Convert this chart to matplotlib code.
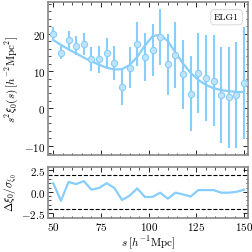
import numpy as np
import matplotlib
matplotlib.use("Agg")
import matplotlib.pyplot as plt
from matplotlib.ticker import AutoMinorLocator

plt.rcParams['font.family'] = 'serif'
plt.rcParams['font.serif'] = ['cmr10']
plt.rcParams['mathtext.fontset'] = 'cm'
plt.rcParams['axes.formatter.use_mathtext'] = True
plt.rcParams['axes.unicode_minus'] = True

s = [50, 54, 58, 62, 66, 70, 74, 78, 82, 86, 90, 94, 98, 102, 106, 110,
     114, 118, 122, 126, 130, 134, 138, 142, 146, 150]
xi = [20.0, 14.9, 18.3, 16.8, 17.2, 13.2, 13.2, 14.7, 12.1, 5.8, 10.9, 17.2,
      13.8, 15.7, 19.2, 11.8, 14.3, 9.1, 3.9, 9.5, 8.2, 7.4, 3.6, 3.0, 3.6, 6.8]
err = [1.7, 1.8, 2.3, 2.6, 3.0, 3.2, 3.6, 4.1, 4.5, 4.8, 5.4, 5.8, 6.4, 7.0,
       7.5, 8.1, 8.8, 9.3, 10.0, 10.7, 11.5, 12.2, 12.9, 13.5, 14.3, 15.0]
model = [18.3, 17.0, 15.8, 14.7, 13.6, 12.6, 11.7, 10.9, 10.4, 10.5, 11.6,
         13.8, 16.8, 19.3, 19.7, 18.0, 15.0, 12.0, 9.5, 7.6, 6.3, 5.4, 4.9,
         4.6, 4.4, 4.4]
resid = [1.0, -1.05, 1.15, 0.9, 1.25, 0.25, 0.45, 1.0, 0.45, -0.95, -0.45,
         0.4, -0.6, -0.6, -0.1, -0.8, -0.1, -0.3, -0.55, 0.2, 0.2, 0.2, -0.1,
         -0.1, 0.0, 0.25]

col = '#87CEFA'
fs = 8

fig = plt.figure(figsize=(2.53, 2.53), dpi=100)
ax1 = fig.add_axes([0.191, 0.383, 0.789, 0.604])
ax2 = fig.add_axes([0.191, 0.136, 0.789, 0.201])

ax1.errorbar(s, xi, yerr=err, fmt='o', color=col, ms=4.5, mfc='#bfe4fb',
             mec=col, mew=0.8, elinewidth=1.5, capsize=0, zorder=3)
ax1.plot(s, model, color=col, lw=1.6, zorder=2)
ax1.set_xlim(47.4, 152)
ax1.set_ylim(-12.5, 28.4)
ax1.set_yticks([-10, 0, 10, 20])
ax1.set_xticks([50, 75, 100, 125, 150])
ax1.set_xticklabels([])
ax1.set_ylabel(r'$s^2\xi_0(s)\,[h^{-2}\mathrm{Mpc}^2]$', fontsize=fs)
ax1.text(0.955, 0.93, 'ELG1', transform=ax1.transAxes, ha='right', va='top',
         fontsize=fs - 1,
         bbox=dict(boxstyle='round,pad=0.35', fc='white', ec='#dddddd', lw=0.8))

ax2.plot(s, resid, color=col, lw=1.6)
ax2.axhline(2, color='k', ls='--', lw=0.8)
ax2.axhline(-2, color='k', ls='--', lw=0.8)
ax2.set_xlim(47.4, 152)
ax2.set_ylim(-3.0, 2.92)
ax2.set_yticks([-2.5, 0.0, 2.5])
ax2.set_yticklabels(['$-2.5$', '$0.0$', '$2.5$'])
ax2.set_xticks([50, 75, 100, 125, 150])
ax2.set_xlabel(r'$s\;[h^{-1}\mathrm{Mpc}]$', fontsize=fs, labelpad=1)
ax2.set_ylabel(r'$\Delta\xi_0/\sigma_{\xi_0}$', fontsize=fs)

for ax in (ax1, ax2):
    ax.xaxis.set_minor_locator(AutoMinorLocator(5))
    ax.yaxis.set_minor_locator(AutoMinorLocator(5))
    ax.tick_params(which='both', direction='in', top=True, right=True,
                   labelsize=fs, pad=2)
    ax.tick_params(which='major', length=3.5, width=0.6)
    ax.tick_params(which='minor', length=1.8, width=0.5)
    for sp in ax.spines.values():
        sp.set_color('#888888')
        sp.set_linewidth(1.2)

ax1.yaxis.set_label_coords(-0.14, 0.5)
ax2.yaxis.set_label_coords(-0.14, 0.5)

fig.savefig('out.png', dpi=100)
